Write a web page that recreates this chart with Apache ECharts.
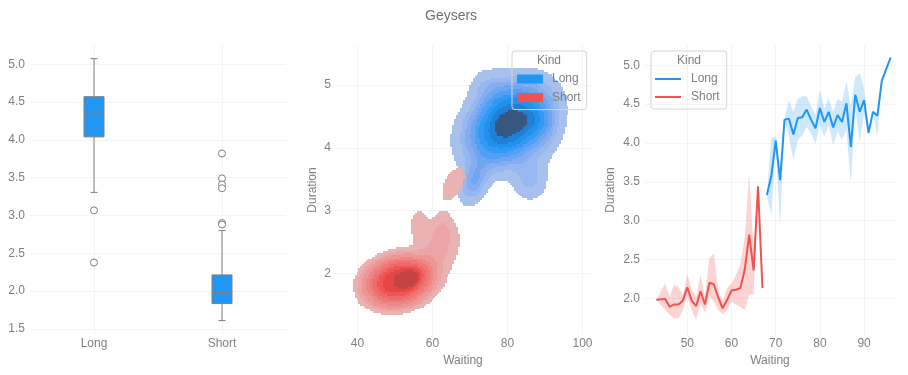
<!DOCTYPE html>
<html><head><meta charset="utf-8">
<script src="https://cdn.jsdelivr.net/npm/echarts@6/dist/echarts.min.js"></script>
<style>html,body{margin:0;padding:0;background:#fff}#c{width:908px;height:375px}</style>
</head><body><div id="c"></div>
<script>
// ---------- data ----------
const kinds = ['Long', 'Short'];
// box plot stats per kind: [low whisker, Q1, median, Q3, high whisker]
const boxStats = [
  [3.305, 4.04, 4.33, 4.571, 5.075],
  [1.609, 1.834, 1.98, 2.213, 2.80]
];
// outliers: [kind index, duration]
const boxOutliers = [[0, 3.067], [0, 2.377], [1, 3.82], [1, 3.49], [1, 3.41], [1, 3.36], [1, 2.90], [1, 2.88]];
const boxTicks = [1.5, 2.0, 2.5, 3.0, 3.5, 4.0, 4.5, 5.0];

// KDE components [waiting, duration, weight, spread waiting, spread duration, correlation, flatness]
const longKernels = [
  [80.3, 4.38, 0.84, 9.3, 0.54, 0.3, 1.5],
  [71.0, 3.45, 0.06, 2.5, 0.22, 0.3, 1],
  [86.0, 3.50, 0.05, 3.0, 0.22, 0.0, 1],
  [75.0, 5.00, 0.03, 3.5, 0.18, 0.0, 1],
  [90.0, 4.30, 0.04, 3.0, 0.30, 0.0, 1]
];
const shortKernels = [
  [50.8, 1.87, 0.74, 8.3, 0.37, 0.15, 2.2],
  [61.0, 2.35, 0.13, 3.8, 0.33, 0.3, 1],
  [56.2, 2.78, 0.016, 1.6, 0.17, 0.0, 1],
  [62.8, 2.66, 0.016, 1.6, 0.17, 0.0, 1],
  [65.6, 3.43, 0.028, 2.6, 0.21, 0.5, 1]
];
const kdeXTicks = [40, 60, 80, 100];
const kdeYTicks = [2, 3, 4, 5];

// line plot: mean duration per waiting with confidence band
const longWaiting = [68,69,70,71,72,73,74,75,76,77,78,79,80,81,82,83,84,85,86,87,88,89,90,91,92,93,94,95,96];
const longMean = [3.33,3.57,4.03,3.52,4.30,4.31,4.11,4.32,4.33,4.43,4.30,4.19,4.45,4.27,4.40,4.20,4.36,4.27,4.51,3.95,4.62,4.40,4.55,4.13,4.40,4.35,4.80,4.95,5.10];
const longHigh = [3.33,4.06,4.08,3.55,4.31,4.55,4.40,4.57,4.60,4.60,4.47,4.36,4.68,4.45,4.57,4.40,4.57,4.53,4.79,4.47,4.85,4.90,4.70,4.15,4.41,4.37,4.80,4.95,5.10];
const longLow = [3.33,3.07,3.95,2.92,4.29,4.08,3.78,4.04,4.10,4.21,4.12,3.99,4.23,4.08,4.23,3.97,4.15,4.04,4.17,3.48,4.43,4.02,4.38,4.11,4.39,4.08,4.80,4.95,5.10];
const shortWaiting = [43,45,46,47,48,49,50,51,52,53,54,55,56,57,58,59,60,61,62,63,64,65,66,67];
const shortMean = [1.98,1.99,1.89,1.92,1.92,1.97,2.14,1.97,1.90,2.09,1.92,2.20,2.18,2.01,1.87,1.98,2.10,2.11,2.13,2.37,2.82,2.36,3.44,2.13];
const shortHigh = [1.98,2.19,2.02,2.17,2.15,2.04,2.31,2.11,2.02,2.30,2.02,2.52,2.58,2.11,1.96,2.13,2.19,2.30,2.43,2.79,3.61,2.62,3.49,2.13];
const shortLow = [1.98,1.85,1.79,1.74,1.74,1.85,2.02,1.85,1.72,1.94,1.81,2.02,1.96,1.85,1.79,1.85,1.96,1.92,1.89,1.85,2.05,2.05,3.38,2.13];
const lineXTicks = [50, 60, 70, 80, 90];
const lineYTicks = [2.0, 2.5, 3.0, 3.5, 4.0, 4.5, 5.0];

// ---------- styles ----------
const TXT = '#808080', GRID = '#f4f4f4', FONT = 'Liberation Sans';
const kindColors = ['#2196f3', '#ef5350'];
const bandColors = ['rgba(33,150,243,0.22)', 'rgba(239,83,80,0.25)'];
const kdePalettes = [
  ['#a7c1ec','#96b7ef','#84aef1','#6ea6f3','#52a0f4','#3399f4','#1f92f0','#2080d6','#38567f'],
  ['#e9b2b3','#eca4a5','#ee9595','#ef8686','#f07777','#f06868','#ee5656','#e44545','#c54343']
];

// ---------- KDE grid ----------
const gW0 = 30, gW1 = 106, gWs = 0.5, gD0 = 0.9, gD1 = 5.8, gDs = 0.03;
const nW = Math.round((gW1 - gW0) / gWs) + 1, nD = Math.round((gD1 - gD0) / gDs) + 1;
function densityGrid(kernels) {
  const g = new Float64Array(nW * nD);
  for (const k of kernels) {
    const [mw, md, wt, sw, sd, r, p] = k;
    const c = new Float64Array(nW * nD); let sum = 0;
    for (let j = 0; j < nD; j++) {
      const d = gD0 + j * gDs;
      for (let i = 0; i < nW; i++) {
        const w = gW0 + i * gWs;
        const zx = (w - mw) / sw, zy = (d - md) / sd;
        const q = (zx * zx - 2 * r * zx * zy + zy * zy) / (1 - r * r);
        const v = Math.exp(-0.5 * Math.pow(q, p));
        c[j * nW + i] = v; sum += v;
      }
    }
    for (let n = 0; n < c.length; n++) g[n] += wt * c[n] / sum;
  }
  return g;
}
// iso-proportion levels
const isoProps = [0.05, 0.1556, 0.2611, 0.3667, 0.4722, 0.5778, 0.6833, 0.7889, 0.8944];
function isoLevels(g) {
  const vals = Array.from(g).sort((a, b) => b - a);
  const tot = vals.reduce((a, b) => a + b, 0);
  const out = []; let c = 0, k = isoProps.length - 1;
  for (let n = 0; n < vals.length && k >= 0; n++) {
    c += vals[n];
    while (k >= 0 && c / tot >= 1 - isoProps[k]) { out[k] = vals[n]; k--; }
  }
  return out;
}
function runs(g) {
  const levels = isoLevels(g);
  const out = [];
  for (let j = 0; j < nD; j++) {
    const d = gD0 + j * gDs;
    let cur = -1, start = 0;
    for (let i = 0; i <= nW; i++) {
      let b = -1;
      if (i < nW) { const v = g[j * nW + i]; for (let k = 0; k < levels.length; k++) if (v >= levels[k]) b = k; }
      if (b !== cur) {
        if (cur >= 0) out.push([gW0 + (start - 0.5) * gWs, gW0 + (i - 0.5) * gWs, d - gDs / 2, d + gDs / 2, cur]);
        cur = b; start = i;
      }
    }
  }
  return out;
}
const kdeRuns = [runs(densityGrid(longKernels)), runs(densityGrid(shortKernels))];

function kdeRender(pal) {
  return function (params, api) {
    const p0 = api.coord([api.value(0), api.value(3)]);
    const p1 = api.coord([api.value(1), api.value(2)]);
    const x0 = Math.round(p0[0]), y0 = Math.round(p0[1]), x1 = Math.round(p1[0]), y1 = Math.round(p1[1]);
    return { type: 'rect', shape: { x: x0, y: y0, width: x1 - x0, height: y1 - y0 }, style: { fill: pal[api.value(4)] }, silent: true };
  };
}
function bandRender(w, lo, hi, color) {
  return function (params, api) {
    if (params.dataIndex !== 0) return null;
    const pts = [];
    for (let i = 0; i < w.length; i++) pts.push(api.coord([w[i], hi[i]]));
    for (let i = w.length - 1; i >= 0; i--) pts.push(api.coord([w[i], lo[i]]));
    return { type: 'polygon', shape: { points: pts }, style: { fill: color }, silent: true };
  };
}
function boxRender(params, api) {
  const i = params.dataIndex, s = boxStats[i];
  const cx = api.coord([i, s[2]])[0];
  const y = s.map(v => api.coord([i, v])[1]);
  const st = { stroke: '#7f7f7f', lineWidth: 1 };
  const bw = 20, cw = 7;
  return { type: 'group', children: [
    { type: 'line', shape: { x1: cx, y1: y[4], x2: cx, y2: y[3] }, style: st },
    { type: 'line', shape: { x1: cx, y1: y[1], x2: cx, y2: y[0] }, style: st },
    { type: 'line', shape: { x1: cx - cw / 2, y1: y[4], x2: cx + cw / 2, y2: y[4] }, style: st },
    { type: 'line', shape: { x1: cx - cw / 2, y1: y[0], x2: cx + cw / 2, y2: y[0] }, style: st },
    { type: 'rect', shape: { x: cx - bw / 2, y: y[3], width: bw, height: y[1] - y[3] }, style: { fill: kindColors[0], stroke: '#7f7f7f', lineWidth: 1 } },
    { type: 'line', shape: { x1: cx - bw / 2, y1: y[2], x2: cx + bw / 2, y2: y[2] }, style: st }
  ] };
}

function valAxis(gi, min, max, ticks, fmt, margin, extra) {
  return Object.assign({
    type: 'value', gridIndex: gi, min: min, max: max,
    axisLine: { show: false },
    axisTick: { show: false, customValues: ticks },
    axisLabel: { customValues: ticks, color: TXT, fontSize: 12, fontFamily: FONT, margin: margin, formatter: fmt },
    splitLine: { show: true, lineStyle: { color: GRID, width: 1 } }
  }, extra || {});
}
const f1 = v => v.toFixed(1), f0 = v => String(v);
const nameStyle = { color: TXT, fontSize: 12, fontFamily: FONT };

const chart = echarts.init(document.getElementById('c'), null, { renderer: 'canvas' });
chart.setOption({
  animation: false,
  textStyle: { fontFamily: FONT },
  title: { text: 'Geysers', left: 420, top: 4, textStyle: { color: '#707070', fontSize: 14, fontWeight: 'normal', fontFamily: FONT } },
  grid: [
    { left: 30, width: 256, top: 43.5, height: 291 },
    { left: 333, width: 260, top: 45, height: 290 },
    { left: 645, width: 250, top: 45, height: 290 }
  ],
  xAxis: [
    valAxis(0, -0.5, 1.5, [0, 1], v => kinds[v], 3),
    valAxis(1, 33.47, 102.8, kdeXTicks, f0, 3, { name: 'Waiting', nameLocation: 'middle', nameGap: 19, nameTextStyle: nameStyle }),
    valAxis(2, 40.43, 96.99, lineXTicks, f0, 3, { name: 'Waiting', nameLocation: 'middle', nameGap: 19, nameTextStyle: nameStyle })
  ],
  yAxis: [
    valAxis(0, 1.425, 5.275, boxTicks, f1, 5),
    valAxis(1, 1.017, 5.637, kdeYTicks, f0, 2, { name: 'Duration', nameLocation: 'middle', nameGap: 14, nameTextStyle: nameStyle }),
    valAxis(2, 1.527, 5.261, lineYTicks, f1, 5, { name: 'Duration', nameLocation: 'middle', nameGap: 28, nameTextStyle: nameStyle })
  ],
  legend: [
    { left: 512, top: 51, orient: 'vertical', padding: [21, 6, 5, 5], itemWidth: 26, itemHeight: 9, itemGap: 4.6,
      borderColor: '#d6d6d6', borderWidth: 1, borderRadius: 3, selectedMode: false,
      textStyle: { color: TXT, fontSize: 12, fontFamily: FONT, lineHeight: 14, padding: [0, 0, 0, 4] },
      data: kinds.map((k, i) => ({ name: k, icon: 'rect', itemStyle: { color: kindColors[i] } })) },
    { left: 651, top: 51, orient: 'vertical', padding: [21, 7, 5, 4], itemGap: 4, itemWidth: 26, itemHeight: 2,
      borderColor: '#d6d6d6', borderWidth: 1, borderRadius: 3, selectedMode: false,
      textStyle: { color: TXT, fontSize: 12, fontFamily: FONT, lineHeight: 14, padding: [0, 0, 0, 5] },
      data: kinds.map((k, i) => ({ name: k, icon: 'rect', itemStyle: { color: kindColors[i] } })) }
  ],
  graphic: [
    { type: 'text', x: 549, y: 61, style: { text: 'Kind', align: 'center', verticalAlign: 'middle', fill: TXT, font: '12px "Liberation Sans"' } },
    { type: 'text', x: 689, y: 61, style: { text: 'Kind', align: 'center', verticalAlign: 'middle', fill: TXT, font: '12px "Liberation Sans"' } }
  ],
  series: [
    { type: 'custom', name: 'box', xAxisIndex: 0, yAxisIndex: 0, renderItem: boxRender,
      encode: { x: 0, y: [1, 2, 3, 4, 5] }, data: boxStats.map((s, i) => [i].concat(s)) },
    { type: 'scatter', name: 'outliers', xAxisIndex: 0, yAxisIndex: 0, symbol: 'circle', symbolSize: 7, clip: false,
      itemStyle: { color: '#ffffff', borderColor: '#7f7f7f', borderWidth: 1, opacity: 1 }, data: boxOutliers },
    { type: 'custom', name: 'Long', xAxisIndex: 1, yAxisIndex: 1, clip: true, renderItem: kdeRender(kdePalettes[0]),
      encode: { x: [0, 1], y: [2, 3] }, data: kdeRuns[0] },
    { type: 'custom', name: 'Short', xAxisIndex: 1, yAxisIndex: 1, clip: true, renderItem: kdeRender(kdePalettes[1]),
      encode: { x: [0, 1], y: [2, 3] }, data: kdeRuns[1] },
    { type: 'custom', name: 'LongBand', xAxisIndex: 2, yAxisIndex: 2, renderItem: bandRender(longWaiting, longLow, longHigh, bandColors[0]),
      encode: { x: 0, y: [1, 2] }, data: longWaiting.map((w, i) => [w, longLow[i], longHigh[i]]) },
    { type: 'custom', name: 'ShortBand', xAxisIndex: 2, yAxisIndex: 2, renderItem: bandRender(shortWaiting, shortLow, shortHigh, bandColors[1]),
      encode: { x: 0, y: [1, 2] }, data: shortWaiting.map((w, i) => [w, shortLow[i], shortHigh[i]]) },
    { type: 'line', name: 'Long', xAxisIndex: 2, yAxisIndex: 2, symbol: 'none', color: kindColors[0],
      lineStyle: { width: 2, color: kindColors[0] }, data: longWaiting.map((w, i) => [w, longMean[i]]) },
    { type: 'line', name: 'Short', xAxisIndex: 2, yAxisIndex: 2, symbol: 'none', color: kindColors[1],
      lineStyle: { width: 2, color: kindColors[1] }, data: shortWaiting.map((w, i) => [w, shortMean[i]]) }
  ]
});
</script></body></html>
